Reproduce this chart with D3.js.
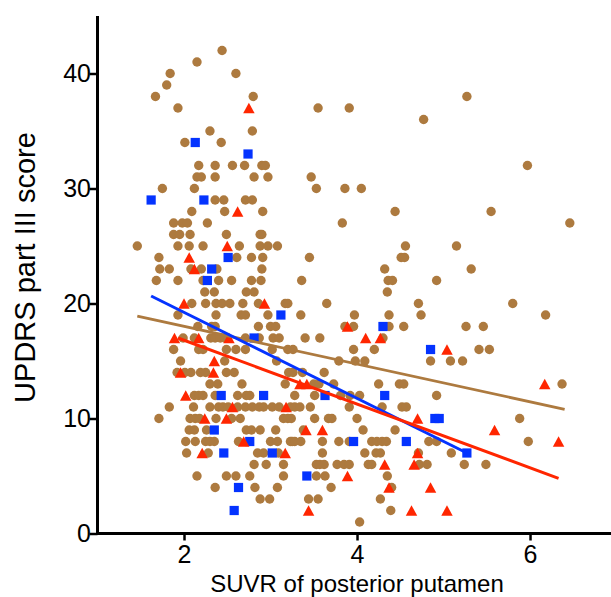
<!DOCTYPE html>
<html><head><meta charset="utf-8">
<style>html,body{margin:0;padding:0;background:#fff}svg{display:block}text{font-family:"Liberation Sans",Arial,sans-serif;fill:#000}</style>
<script src="https://cdn.jsdelivr.net/npm/d3@7"></script></head><body><div id="c"></div>
<script>
const xTicks=[2,4,6], yTicks=[0,10,20,30,40];
const xLabel="SUVR of posterior putamen", yLabel="UPDRS part III score";
// brown: [score, suvr values]
const brownRows=[
[42,[2.44]],[41,[2.15]],[40,[1.84,2.60]],[39,[1.80]],[38,[1.67,2.80,5.27]],[37,[1.93,3.55,3.91]],[36,[4.77]],[35,[2.30,2.79]],[34,[2.01,2.43]],
[32,[2.17,2.36,2.56,2.70,2.90,2.94,5.97]],[31,[2.15,2.20,2.36,2.81,2.97,3.47]],[30,[1.75,2.12,3.53,3.86,4.05]],[29,[2.36,2.46,2.71,2.79]],
[28,[2.09,2.47,2.91,4.44,5.55]],[27,[1.88,1.98,2.04,2.27,3.83,6.46]],[26,[1.88,1.95,2.07,2.49,2.88,2.90]],
[25,[1.46,1.93,2.06,2.22,2.64,2.88,2.97,3.08,4.56,5.15]],[24,[1.71,2.61,2.78,2.91,3.45,4.51,4.55]],
[23,[1.72,1.83,2.08,2.20,2.38,2.90,4.32,5.32]],[22,[1.68,1.93,2.22,2.40,2.55,2.78,2.89,3.36,4.36,4.41,4.92]],[21,[2.24,2.35,2.72,2.81,4.35]],
[20,[2.09,2.25,2.37,2.44,2.53,2.68,2.86,3.17,3.20,3.65,4.71,5.80]],[19,[1.93,2.37,2.66,2.71,2.97,3.35,3.97,4.37,4.74,6.18]],
[18,[2.16,2.32,2.36,2.86,3.00,3.06,3.86,3.96,4.37,4.54,5.26,5.46]],[17,[1.99,2.12,2.31,2.36,2.42,2.47,2.71,2.87,3.03,3.10,3.40,3.57,4.30]],
[16,[1.88,2.17,2.22,2.49,2.60,2.71,3.02,3.20,3.26,3.96,4.20,5.41,5.53]],[15,[1.96,2.47,3.07,3.79,3.98,4.09,4.85,5.08,5.22]],
[14,[1.92,2.01,2.08,2.19,2.25,2.49,2.58,3.21,3.26,3.37,3.62]],[13,[2.30,2.39,2.67,3.17,3.50,3.56,3.73,4.25,4.49,4.54,6.37]],
[12,[2.12,2.17,2.22,2.36,2.62,2.72,2.76,3.28,3.51,3.81,3.92,4.03,4.92]],
[11,[1.83,2.11,2.30,2.40,2.45,2.51,2.62,2.71,2.79,2.87,2.92,3.02,3.10,3.23,3.28,3.34,3.46,3.91,4.29,4.52,4.57]],
[10,[1.71,2.07,2.13,2.18,2.37,2.55,2.65,3.15,3.20,3.24,3.51,3.67,3.71,4.00,5.88]],[9,[2.06,2.12,2.26,2.72,2.78,2.88,3.06,3.38,4.07,4.44]],
[8,[2.02,2.13,2.25,2.30,2.35,2.63,3.00,3.08,3.23,3.25,3.28,3.35,3.60,3.79,3.91,4.17,4.23,4.29,4.34,4.83,4.92,5.98]],
[7,[2.03,2.28,2.85,2.92,3.09,3.60,4.09,4.22,4.27,4.71,5.09]],[6,[2.81,2.95,3.15,3.53,3.57,3.62,3.77,3.85,3.91,4.13,4.17,4.72,4.81,5.24,5.49]],
[5,[2.15,2.49,2.60,2.76,3.15,3.53,3.63,4.35]],[4,[2.36,2.82,3.08,3.70,4.40]],[3,[2.88,2.99,3.44,3.55,4.27]],[2,[4.39]],[1,[4.03]]];
const redRows=[[37,[2.75]],[28,[2.62]],[25,[2.50]],[24,[2.06]],[23,[2.12]],[20,[2.00,2.93]],[18,[3.89]],[17,[1.89,2.17,2.52,4.10,4.27]],[16,[5.04]],[15,[2.35]],
[14,[1.96,2.34]],[13,[3.34,3.42,6.17]],[12,[2.02]],[11,[2.56,3.18]],[10,[2.24,2.49,4.70]],[9,[3.41,3.60,5.59]],[8,[2.69,6.33]],[7,[2.21,3.17,4.70]],[6,[4.32,4.66]],[5,[3.89]],[4,[4.37,4.85]],[2,[3.44,4.63,5.04]]];
const blueRows=[[34,[2.13]],[33,[2.74]],[29,[1.62,2.23]],[24,[2.51]],[23,[2.32]],[22,[2.27]],[19,[3.12]],[18,[4.30]],[17,[2.81]],[16,[4.85]],[12,[2.43,2.92,3.63,4.32]],[10,[4.90,4.95]],[9,[2.35]],[8,[2.76,3.96,4.57]],[7,[2.46,3.02,5.27]],[5,[3.42]],[4,[2.63]],[2,[2.58]]];
const brownFit=[[1.46,18.9],[6.40,10.8]];
const blueFit=[[1.62,20.65],[5.27,7.0]];
const redFit=[[1.93,17.0],[6.33,4.8]];

const W=611,H=597;
const x=d3.scaleLinear().domain([1,6.936]).range([97.5,611]);
const y=d3.scaleLinear().domain([0,45]).range([533.5,16]);
const svg=d3.select("#c").append("svg").attr("width",W).attr("height",H);
const flat=rows=>rows.flatMap(([s,xs])=>xs.map(v=>[v,s]));
const boxTriangle={draw(ctx,size){const h=Math.sqrt(size*2*10.5/11.5),w=h*11.5/10.5;ctx.moveTo(0,-h/2);ctx.lineTo(w/2,h/2);ctx.lineTo(-w/2,h/2);ctx.closePath();}};
const marks=(rows,type,size,color)=>svg.append("g").selectAll("path").data(flat(rows)).join("path")
  .attr("d",d3.symbol().type(type).size(size)).attr("fill",color)
  .attr("transform",d=>`translate(${x(d[0])},${y(d[1])})`);
marks(brownRows,d3.symbolCircle,Math.PI*4.7*4.7,"#ad7a3f");
marks(blueRows,d3.symbolSquare,85,"#0433ff");
marks(redRows,boxTriangle,60,"#ff2600");
const line=d3.line().x(d=>x(d[0])).y(d=>y(d[1]));
[[brownFit,"#ad7a3f",2.8],[blueFit,"#0433ff",3],[redFit,"#ff2600",3]].forEach(([d,c,w])=>
  svg.append("path").attr("d",line(d)).attr("fill","none").attr("stroke",c).attr("stroke-width",w));
const ax=svg.append("g").attr("transform","translate(0,533.5)").call(d3.axisBottom(x).tickValues(xTicks).tickSize(7).tickPadding(4.75).tickFormat(d3.format("d")));
const ay=svg.append("g").attr("transform","translate(97.5,0)").call(d3.axisLeft(y).tickValues(yTicks).tickSize(8).tickPadding(-1.5).tickFormat(d3.format("d")));
[ax,ay].forEach(g=>{g.select(".domain").attr("stroke","#000").attr("stroke-width",3);
  g.selectAll(".tick line").attr("stroke","#000").attr("stroke-width",2.5);
  g.selectAll("text").style("font-size","25px").attr("fill","#000").style("font-family",'"Liberation Sans",Arial,sans-serif');});
ax.select(".domain").attr("d","M96,0H611");
ay.select(".domain").attr("d","M0,16V535");
svg.append("text").attr("x",357).attr("y",591.8).attr("text-anchor","middle").style("font-size","24px").text(xLabel);
svg.append("text").attr("transform","translate(35,267.5) rotate(-90)").attr("text-anchor","middle").style("font-size","29px").text(yLabel);
</script></body></html>
